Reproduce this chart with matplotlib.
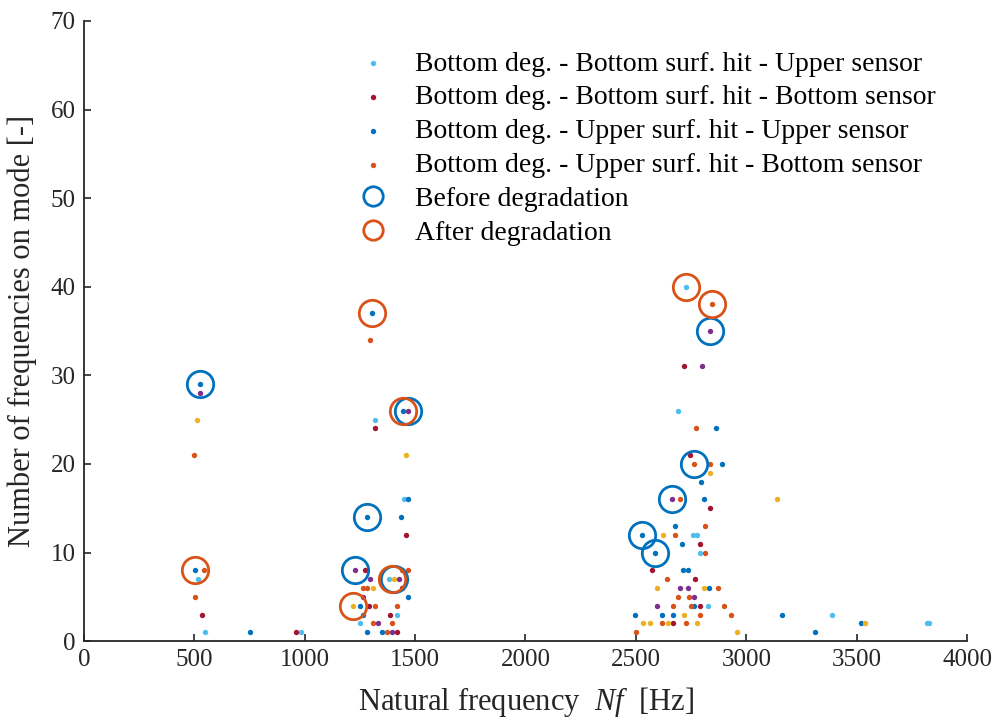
import matplotlib
matplotlib.use("Agg")
import matplotlib.pyplot as plt

plt.rcParams["font.family"] = ["Liberation Serif", "DejaVu Serif"]
plt.rcParams["mathtext.fontset"] = "custom"
plt.rcParams["mathtext.rm"] = "Liberation Serif"
plt.rcParams["mathtext.it"] = "Liberation Serif:italic"

# MATLAB default colour order
C_LBLUE = "#4DBEEE"
C_DRED = "#A2142F"
C_BLUE = "#0072BD"
C_ORANGE = "#D95319"
C_YELLOW = "#EDB120"
C_PURPLE = "#7E2F8E"

# series: (frequency Hz, number of frequencies on mode)
lblue_f = [547, 515, 984, 1319, 1450, 1384, 1417, 1251, 2727, 2691, 2759, 2775, 2790, 2827, 3390, 3820, 3830]
lblue_n = [1, 7, 1, 25, 16, 7, 3, 2, 40, 26, 12, 12, 10, 4, 3, 2, 2]

dred_f = [536, 962, 1319, 1459, 1271, 1440, 1289, 1387, 1417, 2717, 2744, 2835, 2790, 2573, 2767, 2790, 2669]
dred_n = [3, 1, 24, 12, 8, 6, 4, 3, 1, 31, 21, 15, 11, 8, 7, 4, 2]

blue_f = [527, 501, 753, 1305, 1447, 1467, 1284, 1435, 1467, 1251, 1262, 1281, 1349,
          2861, 2890, 2797, 2808, 2530, 2677, 2586, 2707, 2714, 2737, 2832, 2763,
          2495, 2619, 2669, 3160, 3310, 3520]
blue_n = [29, 8, 1, 37, 26, 16, 14, 14, 5, 4, 3, 1, 1,
          24, 20, 18, 16, 12, 13, 10, 11, 8, 8, 6, 4,
          3, 3, 3, 3, 1, 2]

orange_f = [500, 542, 505, 1296, 1440, 1467, 1266, 1284, 1319, 1417, 1311, 1395, 1372,
            2773, 2764, 2835, 2847, 2699, 2812, 2677, 2812, 2642, 2691, 2740, 2666,
            2749, 2790, 2619, 2726, 2500, 2900, 2870, 2930]
orange_n = [21, 8, 5, 34, 8, 8, 6, 6, 4, 4, 2, 2, 1,
            24, 20, 20, 38, 16, 13, 12, 10, 7, 5, 5, 4,
            4, 3, 2, 2, 1, 4, 6, 3]

yellow_f = [512, 1459, 1406, 1311, 1221, 2835, 2624, 2594, 2808, 2717, 2533, 2566, 2646, 2779, 2957, 3140, 3540]
yellow_n = [25, 21, 7, 6, 4, 19, 12, 6, 6, 3, 2, 2, 2, 2, 1, 16, 2]

purple_f = [527, 1466, 1229, 1296, 1428, 1266, 1331, 1395, 2835, 2800, 2664, 2699, 2737, 2764, 2598]
purple_n = [28, 26, 8, 7, 7, 5, 2, 1, 35, 31, 16, 6, 6, 5, 4]

# circled modes
before_f = [527, 1284, 1229, 1405, 1467, 2835, 2764, 2664, 2530, 2586]
before_n = [29, 14, 8, 7, 26, 35, 20, 16, 12, 10]
after_f = [501, 1305, 1447, 1395, 1221, 2727, 2847]
after_n = [8, 37, 26, 7, 4, 40, 38]

fig = plt.figure(figsize=(9.99, 7.22), dpi=100)
ax = fig.add_axes([0.084, 0.112, 0.884, 0.859])

dot = dict(s=15, linewidths=0, zorder=3)
ax.scatter(lblue_f, lblue_n, color=C_LBLUE, label="Bottom deg. - Bottom surf. hit - Upper sensor", **dot)
ax.scatter(dred_f, dred_n, color=C_DRED, label="Bottom deg. - Bottom surf. hit - Bottom sensor", **dot)
ax.scatter(blue_f, blue_n, color=C_BLUE, label="Bottom deg. - Upper surf. hit - Upper sensor", **dot)
ax.scatter(orange_f, orange_n, color=C_ORANGE, label="Bottom deg. - Upper surf. hit - Bottom sensor", **dot)
ax.scatter(yellow_f, yellow_n, color=C_YELLOW, **dot)
ax.scatter(purple_f, purple_n, color=C_PURPLE, **dot)

ax.plot(before_f, before_n, "o", ls="none", ms=19, mfc="none", mec=C_BLUE, mew=2.0,
        label="Before degradation", zorder=4)
ax.plot(after_f, after_n, "o", ls="none", ms=19, mfc="none", mec=C_ORANGE, mew=2.0,
        label="After degradation", zorder=4)

ax.set_xlim(0, 4000)
ax.set_ylim(0, 70)
ax.set_xticks(range(0, 4001, 500))
ax.set_yticks(range(0, 71, 10))
ax.tick_params(direction="in", length=5, width=1.2, labelsize=18, colors="#262626", pad=6)
for side in ("top", "right"):
    ax.spines[side].set_visible(False)
for side in ("left", "bottom"):
    ax.spines[side].set_linewidth(1.3)
    ax.spines[side].set_color("#262626")

ax.set_xlabel("Natural frequency  $Nf$  [Hz]", fontsize=22, color="#262626", labelpad=10)
ax.set_ylabel("Number of frequencies on mode [-]", fontsize=22, color="#262626", labelpad=10)

leg = ax.legend(loc="upper left", bbox_to_anchor=(0.293, 0.969), frameon=False,
                fontsize=20, handletextpad=0.8, labelspacing=0.3,
                handlelength=1.4, borderaxespad=0)
for h in leg.legend_handles[:4]:
    h.set_sizes([15])
for h in leg.legend_handles[4:]:
    h.set_markersize(14)

fig.savefig("out.png", dpi=100)
